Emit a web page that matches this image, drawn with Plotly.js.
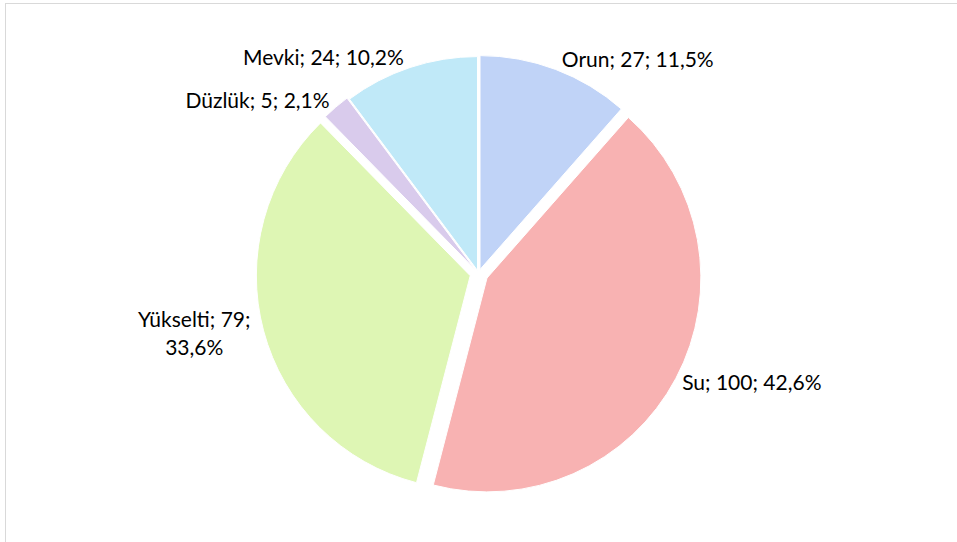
<!DOCTYPE html>
<html>
<head>
<meta charset="utf-8">
<script src="https://cdn.plot.ly/plotly-3.0.1.min.js"></script>
<style>
  html, body { margin: 0; padding: 0; background: #ffffff; }
  #frame { position: absolute; left: 5px; top: 3px; width: 952px; height: 539px;
           border-left: 1px solid #d9d9d9; border-top: 1px solid #d9d9d9; }
  #chart { position: absolute; left: 0; top: 0; width: 957px; height: 542px; }
</style>
</head>
<body>
<div id="frame"></div>
<div id="chart"></div>
<script>
const categories = ["Orun", "Su", "Yükselti", "Düzlük", "Mevki"];
const counts = [27, 100, 79, 5, 24];
const sliceColors = ["#c0d3f7", "#f8b2b2", "#def6b4", "#d9cbec", "#c0e9f8"];
const pulls = [0.02, 0.045, 0.04, 0.025, 0.015];
const templates = [
  "%{label}; %{value}; %{percent:.1%}",
  "%{label}; %{value}; %{percent:.1%}",
  "%{label}; %{value};<br>%{percent:.1%}",
  "%{label}; %{value}; %{percent:.1%}",
  "%{label}; %{value}; %{percent:.1%}"
];

const trace = {
  type: "pie",
  labels: categories,
  values: counts,
  sort: false,
  direction: "clockwise",
  rotation: 0,
  pull: pulls,
  marker: { colors: sliceColors, line: { color: "#ffffff", width: 1 } },
  texttemplate: templates,
  textposition: "outside",
  textfont: { family: "Lato, 'Open Sans', sans-serif", size: 21, color: "#000000" },
  outsidetextfont: { family: "Lato, 'Open Sans', sans-serif", size: 21, color: "#000000" },
  hoverinfo: "label+value+percent",
  domain: { x: [0, 1], y: [0, 1] },
  showlegend: false
};

const layout = {
  width: 957,
  height: 542,
  margin: { l: 60, r: 60, t: 50, b: 45 },
  paper_bgcolor: "rgba(0,0,0,0)",
  plot_bgcolor: "rgba(0,0,0,0)",
  separators: ",.",
  showlegend: false,
  font: { family: "Lato, 'Open Sans', sans-serif", size: 21, color: "#000000" }
};

Plotly.newPlot("chart", [trace], layout, { displayModeBar: false, staticPlot: true });
</script>
</body>
</html>
